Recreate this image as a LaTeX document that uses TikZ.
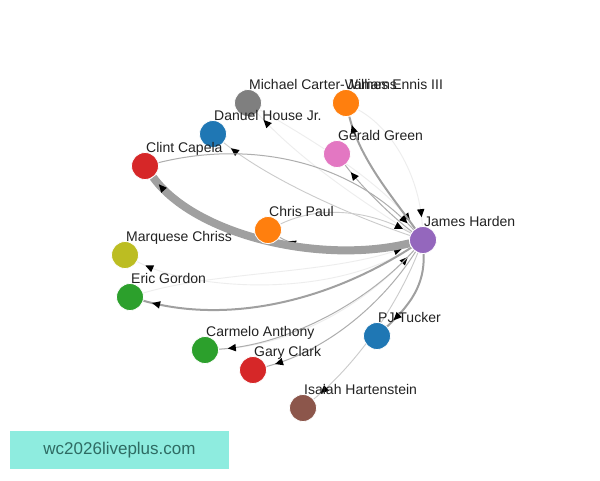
\documentclass[tikz,border=0pt]{standalone}
\usepackage{fontspec}
\newfontfamily\netfont{Liberation Sans}
\usetikzlibrary{arrows.meta,decorations.markings}
\definecolor{netPurple}{HTML}{9467BD}
\definecolor{netOrange}{HTML}{FF7F0E}
\definecolor{netRed}{HTML}{D62728}
\definecolor{netBlue}{HTML}{1F77B4}
\definecolor{netGray}{HTML}{7F7F7F}
\definecolor{netPink}{HTML}{E377C2}
\definecolor{netOlive}{HTML}{BCBD22}
\definecolor{netGreen}{HTML}{2CA02C}
\definecolor{netBrown}{HTML}{8C564B}
\definecolor{netEdge}{HTML}{A0A0A0}
\definecolor{netInk}{HTML}{222222}
\definecolor{netMint}{HTML}{8EECDF}
\definecolor{netMintInk}{HTML}{2E6B63}
\pgfdeclarelayer{edges}
\pgfsetlayers{edges,main}

\begin{document}
\begin{tikzpicture}[x=1pt,y=-1pt,>=Latex,line cap=round,line join=round]
\tikzset{player/.style={circle,draw=white,line width=0.8pt,minimum size=27pt,inner sep=0pt},plabel/.style={anchor=base west,inner sep=0pt,xshift=1pt,text=netInk,font=\netfont\fontsize{14}{16}\selectfont},thickedge/.style={draw=netEdge,line width=8pt},midedge/.style={draw=netEdge,line width=2pt},thinedge/.style={draw=netEdge!85,line width=1pt},lightedge/.style={draw=netEdge!55,line width=0.9pt},faintedge/.style={draw=black!7,line width=0.9pt},arrowend/.style={postaction={decorate},decoration={markings,mark=at position -9pt with {\arrow{Triangle[length=8pt,width=7.5pt,line width=0pt,black]}}}}}
% players
\node[player,fill=netPurple] (harden) at (423,240) {};
\node[player,fill=netOrange] (chrispaul) at (268,230) {};
\node[player,fill=netRed] (capela) at (145,166) {};
\node[player,fill=netBlue] (house) at (213,134) {};
\node[player,fill=netGray] (mcw) at (248,103) {};
\node[player,fill=netOrange] (ennis) at (346,103) {};
\node[player,fill=netPink] (green) at (337,154) {};
\node[player,fill=netOlive] (marquese) at (125,255) {};
\node[player,fill=netGreen] (gordon) at (130,297) {};
\node[player,fill=netGreen] (carmelo) at (205,350) {};
\node[player,fill=netRed] (garyclark) at (253,370) {};
\node[player,fill=netBlue] (tucker) at (377,336) {};
\node[player,fill=netBrown] (isaiah) at (303,408) {};
% names
\node[plabel] (hardenName) at (harden.north) {James Harden};
\node[plabel] (chrispaulName) at (chrispaul.north) {Chris Paul};
\node[plabel] (capelaName) at (capela.north) {Clint Capela};
\node[plabel] (houseName) at (house.north) {Danuel House Jr.};
\node[plabel] (mcwName) at (mcw.north) {Michael Carter-Williams};
\node[plabel] (ennisName) at (ennis.north) {James Ennis III};
\node[plabel] (greenName) at (green.north) {Gerald Green};
\node[plabel] (marqueseName) at (marquese.north) {Marquese Chriss};
\node[plabel] (gordonName) at (gordon.north) {Eric Gordon};
\node[plabel] (carmeloName) at (carmelo.north) {Carmelo Anthony};
\node[plabel] (garyclarkName) at (garyclark.north) {Gary Clark};
\node[plabel] (tuckerName) at (tucker.north) {PJ Tucker};
\node[plabel] (isaiahName) at (isaiah.north) {Isaiah Hartenstein};
% watermark
\node[fill=netMint,minimum width=219pt,minimum height=38pt,inner sep=0pt,text=netMintInk,font=\netfont\fontsize{17}{20}\selectfont] (site) at (119.5,450) {wc2026liveplus.com};
\begin{pgfonlayer}{edges}
\path[fill=white] (0,0) rectangle (600,480);
\draw[faintedge,arrowend] (mcw) .. controls (330,150) and (390,190) .. (harden);
\draw[faintedge,arrowend] (ennis) .. controls (395,130) and (420,180) .. (harden);
\draw[faintedge,arrowend] (harden) .. controls (360,200) and (300,160) .. (mcw);
\draw[faintedge,arrowend] (harden) .. controls (330,300) and (190,290) .. (marquese);
\draw[faintedge,arrowend] (gordon) .. controls (220,270) and (340,275) .. (harden);
\draw[faintedge,arrowend] (carmelo) .. controls (300,345) and (370,300) .. (harden);
\draw[lightedge,arrowend] (harden) .. controls (350,215) and (270,180) .. (house);
\draw[lightedge,arrowend] (chrispaul) .. controls (320,205) and (370,210) .. (harden);
\draw[lightedge,arrowend] (harden) .. controls (395,310) and (355,365) .. (isaiah);
\draw[thinedge,arrowend] (capela) .. controls (250,140) and (350,160) .. (harden);
\draw[thinedge,arrowend] (harden) .. controls (390,215) and (360,185) .. (green);
\draw[thinedge,arrowend] (harden) .. controls (370,300) and (290,345) .. (carmelo);
\draw[thinedge,arrowend] (harden) .. controls (385,300) and (330,350) .. (garyclark);
\draw[thinedge,arrowend] (harden) .. controls (350,252) and (300,250) .. (chrispaul);
\draw[midedge,arrowend] (harden) .. controls (395,200) and (360,160) .. (ennis);
\draw[midedge,arrowend] (harden) .. controls (330,300) and (230,325) .. (gordon);
\draw[midedge,arrowend] (harden) .. controls (425,285) and (410,305) .. (tucker);
\draw[thickedge,arrowend] (harden) .. controls (320,265) and (195,235) .. (capela);
\end{pgfonlayer}
\end{tikzpicture}
\end{document}
